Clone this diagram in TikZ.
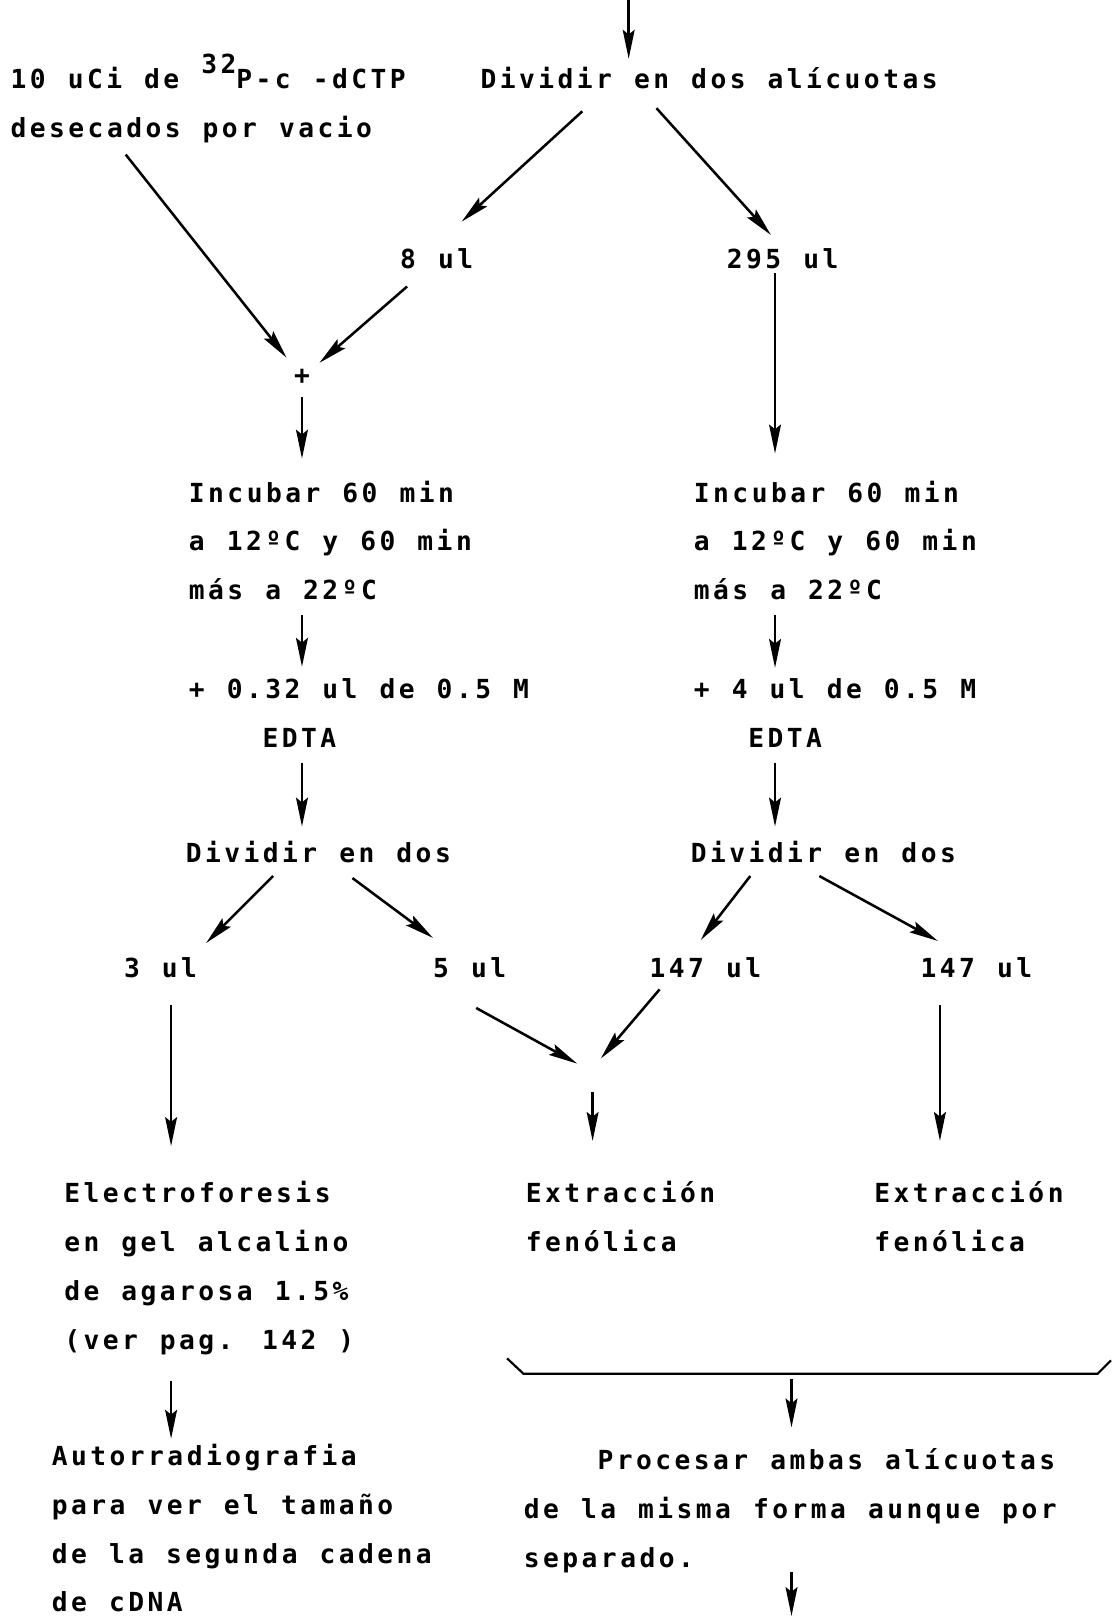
\documentclass[tikz,border=0pt]{standalone}
\usepackage{fontspec}
\newfontfamily\tw[LetterSpace=13.2, WordSpace=1.144]{DejaVu Sans Mono}
\usetikzlibrary{arrows.meta,calc}

\tikzset{
  txt/.style={anchor=base west, inner sep=0pt, align=left,
    font=\tw\bfseries\fontsize{14.5}{27}\selectfont},
  arr/.style={line width=1.4pt, -{Stealth[length=5.6mm,width=2.3mm,inset=0.9mm]}},
}

\begin{document}
\begin{tikzpicture}[x=0.02cm, y=-0.02cm]
\useasboundingbox (0,0) rectangle (1082,1568);

% steps (multi-line nodes sit on the baseline of their last line)
\node[txt] (src) at (10,133) {10 uCi de \raisebox{8pt}{32}P-c -dCTP\\desecados por vacio};
\node[txt] (div) at (466,86) {Dividir en dos alícuotas};
\node[txt] (ul8) at (388,261) {8 ul};
\node[txt] (ul295) at (705,261) {295 ul};
\node[txt, anchor=center] (plus) at (293,366) {+};
\node[txt] (incL) at (183,582) {Incubar 60 min\\a 12ºC y 60 min\\más a 22ºC};
\node[txt] (incR) at (673,582) {Incubar 60 min\\a 12ºC y 60 min\\más a 22ºC};
\node[txt] (edtaL) at (183,725) {+ 0.32 ul de 0.5 M\\\hphantom{0000}EDTA};
\node[txt] (edtaR) at (673,725) {+ 4 ul de 0.5 M\\\hphantom{000}EDTA};
\node[txt] (divL) at (180,837) {Dividir en dos};
\node[txt] (divR) at (670,837) {Dividir en dos};
\node[txt] (ul3) at (120,948) {3 ul};
\node[txt] (ul5) at (420,948) {5 ul};
\node[txt] (ulA) at (630,948) {147 ul};
\node[txt] (ulB) at (893,948) {147 ul};
\node[txt] (elec) at (62,1309) {Electroforesis\\en gel alcalino\\de agarosa 1.5\%\\(ver pag. 142 )};
\node[txt] (extA) at (510,1214) {Extracción\\fenólica};
\node[txt] (extB) at (848,1214) {Extracción\\fenólica};
\node[txt] (auto) at (50,1564) {Autorradiografia\\para ver el tamaño\\de la segunda cadena\\de cDNA};
\node[txt] (proc) at (508,1521) {\hphantom{0000}Procesar ambas alícuotas\\de la misma forma aunque por\\separado.};

\coordinate (in) at (610,0);
\coordinate (join) at (572,1043);
\coordinate (brace) at (768,1333);
\coordinate (out) at (768,1568);

% bracket under the two extractions
\draw[line width=1.2pt] (492,1318) -- (508,1333) -- (1065,1333) -- (1078,1320);

% arrows
\draw[arr] (in) -- ($(div.base west)+(144,-29)$);
\draw[arr] ($(div.base west)+(99,22)$) -- ($(ul8.base west)+(60,-46)$);
\draw[arr] ($(div.base west)+(171,19)$) -- ($(ul295.base west)+(43,-33)$);
\draw[arr] ($(src.base west)+(112,17)$) -- ($(plus)+(-15,-19)$);
\draw[arr] ($(ul8.base west)+(7,17)$) -- ($(plus)+(17,-14)$);
\draw[arr] ($(plus)+(0,19)$) -- ($(incL.base west)+(110,-137)$);
\draw[arr] ($(incL.base west)+(110,15)$) -- ($(edtaL.base west)+(110,-78)$);
\draw[arr] ($(edtaL.base west)+(110,15)$) -- ($(divL.base west)+(113,-35)$);
\draw[arr] ($(divL.base west)+(85,13)$) -- ($(ul3.base west)+(80,-33)$);
\draw[arr] ($(divL.base west)+(162,15)$) -- ($(ul5.base west)+(0,-38)$);
\draw[arr] ($(ul3.base west)+(46,27)$) -- ($(elec.base west)+(104,-197)$);
\draw[arr] ($(ul5.base west)+(42,30)$) -- ($(join)+(-12,-11)$);
\draw[arr] ($(ulA.base west)+(10,12)$) -- ($(join)+(11,-16)$);
\draw[arr] ($(join)+(3,17)$) -- ($(extA.base west)+(65,-107)$);
\draw[arr] ($(ul295.base west)+(47,4)$) -- ($(incR.base west)+(79,-142)$);
\draw[arr] ($(incR.base west)+(79,15)$) -- ($(edtaR.base west)+(79,-77)$);
\draw[arr] ($(edtaR.base west)+(79,15)$) -- ($(divR.base west)+(82,-35)$);
\draw[arr] ($(divR.base west)+(58,13)$) -- ($(ulA.base west)+(50,-36)$);
\draw[arr] ($(divR.base west)+(125,13)$) -- ($(ulB.base west)+(17,-35)$);
\draw[arr] ($(ulB.base west)+(19,27)$) -- ($(extB.base west)+(64,-107)$);
\draw[arr] ($(elec.base west)+(104,31)$) -- ($(auto.base west)+(116,-168)$);
\draw[arr] ($(brace)+(0,5)$) -- ($(proc.base west)+(260,-136)$);
\draw[arr] ($(proc.base west)+(260,4)$) -- (out);
\end{tikzpicture}
\end{document}
